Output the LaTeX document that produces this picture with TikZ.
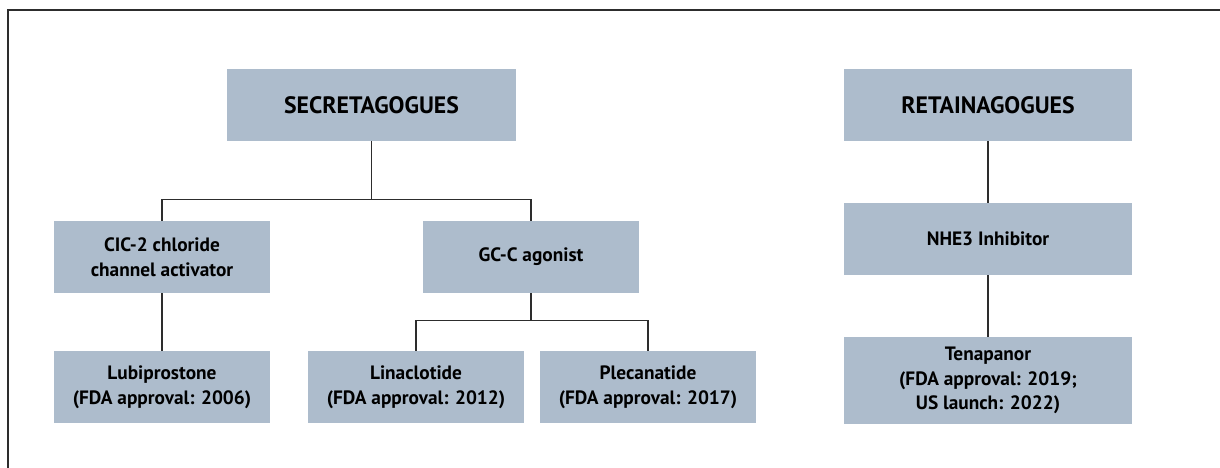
\documentclass[tikz,border=0pt]{standalone}
\usepackage{fontspec}
\setmainfont{PT Sans}
\usepackage{xcolor}
\definecolor{boxBlue}{RGB}{173, 188, 204}
\definecolor{lineDark}{RGB}{45, 45, 45}
\usepackage{tikz}
\usetikzlibrary{
    positioning,
    calc
}

\begin{document}
\begin{tikzpicture}[
    classNode/.style={
        rectangle, draw=none,
        fill=boxBlue, text=black,
        font=\fontsize{13.5}{16}\selectfont\bfseries, align=center,
        inner sep=2pt, minimum width=5.77cm, minimum height=1.44cm
    },
    drugNode/.style={
        rectangle, draw=none,
        fill=boxBlue, text=black,
        font=\fontsize{11}{14}\selectfont\bfseries, align=center,
        inner sep=2pt, minimum width=4.33cm, minimum height=1.44cm
    },
    treeLink/.style={
        line width=0.6pt, draw=lineDark
    }
]

    % Canvas and frame
    \useasboundingbox (0,0) rectangle (24.4,9.36);
    \draw[line width=0.6pt, draw=lineDark] (0.16,0) -- (0.16,9.16) -- (24.4,9.16);

    % Top level classes
    \node[classNode] (secreta) at (7.43, 7.26) {SECRETAGOGUES};
    \node[classNode] (retaina) at (19.76, 7.26) {RETAINAGOGUES};

    % Secretagogues branch
    \node[drugNode] (cicTwo) at (3.24, 4.22) {CIC-2 chloride\\channel activator};
    \node[drugNode] (gccAgonist) at (10.62, 4.22) {GC-C agonist};

    \node[drugNode] (lubipro) at (3.24, 1.62) {Lubiprostone\\(FDA approval: 2006)};
    \node[drugNode] (linaclo) at (8.32, 1.62) {Linaclotide\\(FDA approval: 2012)};
    \node[drugNode] (plecana) at (12.96, 1.62) {Plecanatide\\(FDA approval: 2017)};

    % Retainagogues branch
    \node[drugNode, minimum width=5.77cm] (nheThree) at (19.76, 4.58) {NHE3 Inhibitor};
    \node[drugNode, minimum width=5.77cm, minimum height=1.74cm] (tenapan) at (19.76, 1.75) {Tenapanor\\(FDA approval: 2019;\\US launch: 2022)};

    % Links
    \draw[treeLink] (secreta.south) -- ++(0,-1.16) -| (cicTwo.north);
    \draw[treeLink] (secreta.south) -- ++(0,-1.16) -| (gccAgonist.north);
    \draw[treeLink] (cicTwo) -- (lubipro);

    \draw[treeLink] (gccAgonist.south) -- ++(0,-0.54) -| (linaclo.north);
    \draw[treeLink] (gccAgonist.south) -- ++(0,-0.54) -| (plecana.north);

    \draw[treeLink] (retaina) -- (nheThree);
    \draw[treeLink] (nheThree) -- (tenapan);

\end{tikzpicture}
\end{document}
